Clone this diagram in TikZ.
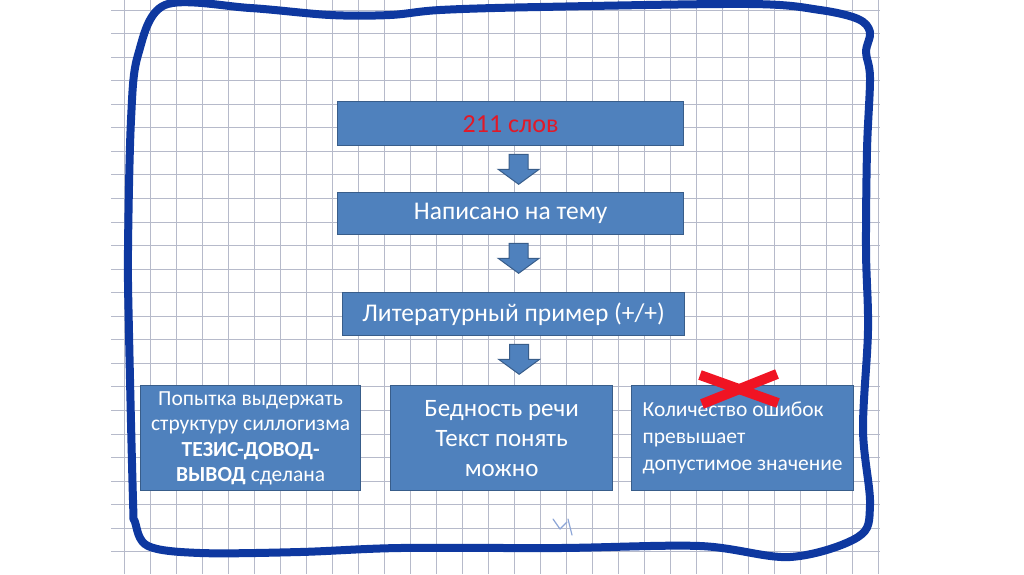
\documentclass[tikz,border=0pt]{standalone}
\usepackage{fontspec}
\setmainfont{Carlito}
\usetikzlibrary{calc}
\definecolor{boxfill}{HTML}{4F81BD}
\definecolor{boxline}{HTML}{385D8A}
\definecolor{gridc}{RGB}{182,186,202}
\definecolor{framec}{RGB}{14,56,160}
\definecolor{redtxt}{RGB}{225,25,40}
\definecolor{crossc}{RGB}{240,20,35}
\definecolor{faintc}{RGB}{140,165,215}
\tikzset{
  gridline/.style={draw=gridc, line width=0.8pt},
  box/.style={draw=boxline, line width=1.3pt, fill=boxfill, text=white, inner sep=0pt, anchor=north west, align=center},
  arrowst/.style={draw=boxline, line width=1pt, fill=boxfill, line join=miter},
  framest/.style={draw=framec, line width=8pt, line cap=round, line join=round},
  crossst/.style={draw=crossc, line width=10pt},
}
\begin{document}
\begin{tikzpicture}[x=1pt,y=-1pt]
\useasboundingbox (0,0) rectangle (1024,574);
\fill[white] (0,0) rectangle (1024,574);
% graph paper
\foreach \i in {0,...,29} \draw[gridline] ({124+26*\i},0) -- ({124+26*\i},574);
\foreach \j in {0,...,24} \draw[gridline] (111,{10+23.55*\j}) -- (880,{10+23.55*\j});
% hand-drawn frame
\draw[framest] plot[smooth cycle, tension=0.55] coordinates {
  (165,5) (250,8) (330,15) (390,15) (440,10) (540,7) (750,4) (820,10) (858,19)
  (870,32) (866,52) (870,78) (867,150) (866,250) (868,330) (863,430) (870,505)
  (858,537) (790,557) (700,546) (560,548) (400,548) (300,552) (200,553) (148,546)
  (135,522) (133,500) (129,333) (128,250) (131,120) (138,55)};
% boxes
\node[box, minimum width=346pt, minimum height=44pt, font=\fontsize{26}{30}\selectfont, text=redtxt] (b1) at (337,101) {211 слов};
\node[box, minimum width=346pt, minimum height=42pt, font=\fontsize{25.5}{30}\selectfont] (b2) at (337,192) {Написано на тему};
\node[box, minimum width=342pt, minimum height=43pt, font=\fontsize{25.5}{30}\selectfont] (b3) at (342,292) {Литературный пример (+/+)};
\node[box, minimum width=220pt, minimum height=105pt, font=\fontsize{21.5}{25.5}\selectfont] (c1) at (140,385) {Попытка выдержать\\структуру силлогизма\\\textbf{ТЕЗИС-ДОВОД-}\\\textbf{ВЫВОД} сделана};
\node[box, minimum width=222pt, minimum height=105pt, font=\fontsize{25}{30}\selectfont] (c2) at (390,385) {Бедность речи\\Текст понять\\можно};
\node[box, minimum width=222pt, minimum height=105pt, align=left, font=\fontsize{21.5}{27}\selectfont] (c3) at (631,385) {Количество ошибок\\превышает\\допустимое значение};
% block arrows
\coordinate (a1) at ($(b1.south)+(8,8)$);
\coordinate (a2) at ($(b2.south)+(8,8)$);
\coordinate (a3) at ($(b3.south)+(5.5,8)$);
\foreach \a in {a1,a2,a3}
  \draw[arrowst] (\a) ++(-9.5,0) -- ++(19,0) -- ++(0,15) -- ++(11,0) -- ++(-20.5,15) -- ++(-20.5,-15) -- ++(11,0) -- cycle;
% red cross
\draw[crossst] (700,375) -- (778,403);
\draw[crossst] (702,404) -- (777,374);
% faint pencil mark
\draw[faintc, line width=1.2pt, line cap=round, line join=round] (553,519) -- (560,529) -- (567,522);
\draw[faintc, line width=1.2pt, line cap=round] (568,519) -- (572,535);
\end{tikzpicture}
\end{document}
